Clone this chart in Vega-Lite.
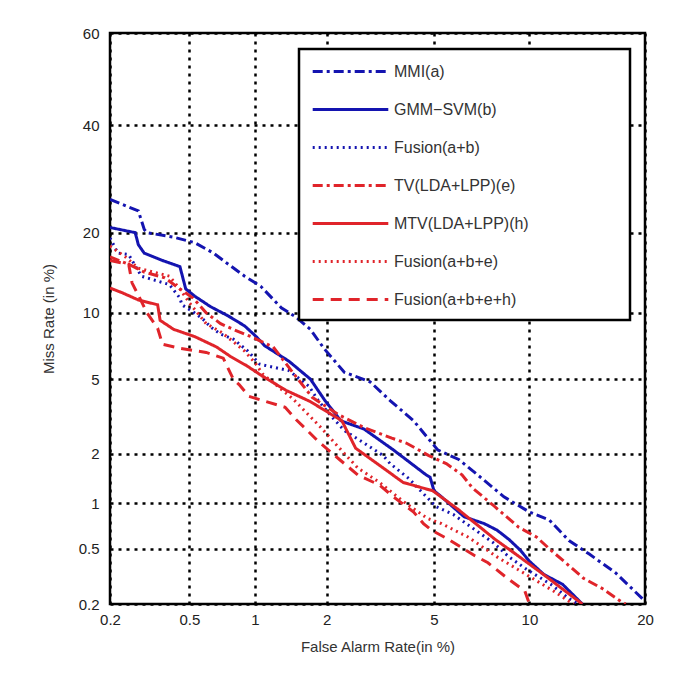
{
  "$schema": "https://vega.github.io/schema/vega-lite/v6.json",
  "width": 535,
  "height": 571,
  "autosize": "none",
  "padding": {"left": 110, "top": 33, "right": 40, "bottom": 84},
  "background": "white",
  "config": {
    "view": {"stroke": "black", "strokeWidth": 2.5},
    "font": "Liberation Sans",
    "axis": {
      "grid": true, "gridColor": "black", "gridDash": [3, 5], "gridWidth": 2.5, "gridOpacity": 1,
      "domain": false, "ticks": false,
      "labelFont": "Liberation Sans", "labelFontSize": 15, "labelColor": "#222",
      "titleFont": "Liberation Sans", "titleFontSize": 15, "titleFontWeight": "normal", "titleColor": "#333",
      "labelFlush": false
    },
    "legend": {
      "orient": "none", "legendX": 189, "legendY": 16,
      "padding": 12, "strokeColor": "black", "strokeWidth": 2.5, "fillColor": "white",
      "symbolType": "M-4.2,0H4.2", "symbolSize": 324, "symbolOffset": 29, "symbolStrokeWidth": 3,
      "labelOffset": 33, "labelFont": "Liberation Sans", "labelFontSize": 16, "labelColor": "#333",
      "rowPadding": 19, "labelLimit": 400,
      "titleOrient": "right", "titlePadding": 89, "titleFontSize": 16
    }
  },
  "data": {"values": [
    {"s":"MMI(a)","fa":0.2,"miss":25.5},{"s":"MMI(a)","fa":0.28,"miss":23.5},{"s":"MMI(a)","fa":0.3,"miss":20.5},{"s":"MMI(a)","fa":0.31,"miss":20},{"s":"MMI(a)","fa":0.42,"miss":19.3},{"s":"MMI(a)","fa":0.53,"miss":18.5},{"s":"MMI(a)","fa":0.65,"miss":17},{"s":"MMI(a)","fa":0.76,"miss":15.5},{"s":"MMI(a)","fa":0.9,"miss":14},{"s":"MMI(a)","fa":1.06,"miss":12.8},{"s":"MMI(a)","fa":1.3,"miss":10.5},{"s":"MMI(a)","fa":1.5,"miss":9.6},{"s":"MMI(a)","fa":1.72,"miss":8.5},{"s":"MMI(a)","fa":1.95,"miss":7.0},{"s":"MMI(a)","fa":2.35,"miss":5.4},{"s":"MMI(a)","fa":2.95,"miss":4.85},{"s":"MMI(a)","fa":3.5,"miss":3.9},{"s":"MMI(a)","fa":4.25,"miss":3.05},{"s":"MMI(a)","fa":5.15,"miss":2.1},{"s":"MMI(a)","fa":6.05,"miss":1.85},{"s":"MMI(a)","fa":6.9,"miss":1.52},{"s":"MMI(a)","fa":8.4,"miss":1.1},{"s":"MMI(a)","fa":10,"miss":0.88},{"s":"MMI(a)","fa":11.4,"miss":0.78},{"s":"MMI(a)","fa":12.9,"miss":0.57},{"s":"MMI(a)","fa":14.6,"miss":0.46},{"s":"MMI(a)","fa":17,"miss":0.34},{"s":"MMI(a)","fa":20,"miss":0.21},

    {"s":"GMM−SVM(b)","fa":0.2,"miss":20.8},{"s":"GMM−SVM(b)","fa":0.27,"miss":20},{"s":"GMM−SVM(b)","fa":0.28,"miss":18.2},{"s":"GMM−SVM(b)","fa":0.3,"miss":17},{"s":"GMM−SVM(b)","fa":0.37,"miss":16},{"s":"GMM−SVM(b)","fa":0.45,"miss":15.2},{"s":"GMM−SVM(b)","fa":0.48,"miss":12.5},{"s":"GMM−SVM(b)","fa":0.53,"miss":11.7},{"s":"GMM−SVM(b)","fa":0.63,"miss":10.6},{"s":"GMM−SVM(b)","fa":0.76,"miss":9.7},{"s":"GMM−SVM(b)","fa":0.9,"miss":8.8},{"s":"GMM−SVM(b)","fa":1.02,"miss":7.85},{"s":"GMM−SVM(b)","fa":1.1,"miss":7.2},{"s":"GMM−SVM(b)","fa":1.4,"miss":6.1},{"s":"GMM−SVM(b)","fa":1.72,"miss":5.0},{"s":"GMM−SVM(b)","fa":1.97,"miss":3.9},{"s":"GMM−SVM(b)","fa":2.28,"miss":3.05},{"s":"GMM−SVM(b)","fa":2.8,"miss":2.75},{"s":"GMM−SVM(b)","fa":3.6,"miss":2.1},{"s":"GMM−SVM(b)","fa":4.7,"miss":1.5},{"s":"GMM−SVM(b)","fa":4.85,"miss":1.45},{"s":"GMM−SVM(b)","fa":5.0,"miss":1.2},{"s":"GMM−SVM(b)","fa":5.3,"miss":1.1},{"s":"GMM−SVM(b)","fa":6.3,"miss":0.82},{"s":"GMM−SVM(b)","fa":7.3,"miss":0.74},{"s":"GMM−SVM(b)","fa":8.0,"miss":0.67},{"s":"GMM−SVM(b)","fa":8.7,"miss":0.58},{"s":"GMM−SVM(b)","fa":9.4,"miss":0.49},{"s":"GMM−SVM(b)","fa":10,"miss":0.41},{"s":"GMM−SVM(b)","fa":11,"miss":0.33},{"s":"GMM−SVM(b)","fa":12.4,"miss":0.28},{"s":"GMM−SVM(b)","fa":14,"miss":0.2},

    {"s":"Fusion(a+b)","fa":0.2,"miss":19.2},{"s":"Fusion(a+b)","fa":0.22,"miss":17},{"s":"Fusion(a+b)","fa":0.25,"miss":16.8},{"s":"Fusion(a+b)","fa":0.29,"miss":14},{"s":"Fusion(a+b)","fa":0.4,"miss":13},{"s":"Fusion(a+b)","fa":0.45,"miss":11.5},{"s":"Fusion(a+b)","fa":0.46,"miss":10.8},{"s":"Fusion(a+b)","fa":0.52,"miss":10.1},{"s":"Fusion(a+b)","fa":0.58,"miss":9.4},{"s":"Fusion(a+b)","fa":0.63,"miss":8.7},{"s":"Fusion(a+b)","fa":0.7,"miss":8.1},{"s":"Fusion(a+b)","fa":0.8,"miss":7.7},{"s":"Fusion(a+b)","fa":0.93,"miss":6.8},{"s":"Fusion(a+b)","fa":1.05,"miss":5.9},{"s":"Fusion(a+b)","fa":1.4,"miss":5.5},{"s":"Fusion(a+b)","fa":1.7,"miss":4.6},{"s":"Fusion(a+b)","fa":1.85,"miss":3.9},{"s":"Fusion(a+b)","fa":2.1,"miss":3.2},{"s":"Fusion(a+b)","fa":2.35,"miss":2.7},{"s":"Fusion(a+b)","fa":2.8,"miss":2.3},{"s":"Fusion(a+b)","fa":3.3,"miss":1.95},{"s":"Fusion(a+b)","fa":3.5,"miss":1.75},{"s":"Fusion(a+b)","fa":4.1,"miss":1.42},{"s":"Fusion(a+b)","fa":4.6,"miss":1.15},{"s":"Fusion(a+b)","fa":5.1,"miss":0.95},{"s":"Fusion(a+b)","fa":5.8,"miss":0.85},{"s":"Fusion(a+b)","fa":7.8,"miss":0.55},{"s":"Fusion(a+b)","fa":8.7,"miss":0.44},{"s":"Fusion(a+b)","fa":9.8,"miss":0.36},{"s":"Fusion(a+b)","fa":11.5,"miss":0.28},{"s":"Fusion(a+b)","fa":12.9,"miss":0.22},{"s":"Fusion(a+b)","fa":13.7,"miss":0.2},

    {"s":"TV(LDA+LPP)(e)","fa":0.2,"miss":16.5},{"s":"TV(LDA+LPP)(e)","fa":0.25,"miss":15.5},{"s":"TV(LDA+LPP)(e)","fa":0.3,"miss":14.5},{"s":"TV(LDA+LPP)(e)","fa":0.38,"miss":13.8},{"s":"TV(LDA+LPP)(e)","fa":0.45,"miss":12.5},{"s":"TV(LDA+LPP)(e)","fa":0.52,"miss":11.5},{"s":"TV(LDA+LPP)(e)","fa":0.6,"miss":10},{"s":"TV(LDA+LPP)(e)","fa":0.7,"miss":9},{"s":"TV(LDA+LPP)(e)","fa":0.8,"miss":8.5},{"s":"TV(LDA+LPP)(e)","fa":0.96,"miss":7.9},{"s":"TV(LDA+LPP)(e)","fa":1.2,"miss":7.1},{"s":"TV(LDA+LPP)(e)","fa":1.47,"miss":5.3},{"s":"TV(LDA+LPP)(e)","fa":1.75,"miss":4.05},{"s":"TV(LDA+LPP)(e)","fa":2.22,"miss":3.3},{"s":"TV(LDA+LPP)(e)","fa":2.8,"miss":2.8},{"s":"TV(LDA+LPP)(e)","fa":3.55,"miss":2.45},{"s":"TV(LDA+LPP)(e)","fa":4.0,"miss":2.3},{"s":"TV(LDA+LPP)(e)","fa":4.8,"miss":1.95},{"s":"TV(LDA+LPP)(e)","fa":5.5,"miss":1.75},{"s":"TV(LDA+LPP)(e)","fa":6.2,"miss":1.5},{"s":"TV(LDA+LPP)(e)","fa":6.7,"miss":1.25},{"s":"TV(LDA+LPP)(e)","fa":7.8,"miss":0.97},{"s":"TV(LDA+LPP)(e)","fa":9.3,"miss":0.7},{"s":"TV(LDA+LPP)(e)","fa":10.5,"miss":0.6},{"s":"TV(LDA+LPP)(e)","fa":11.5,"miss":0.49},{"s":"TV(LDA+LPP)(e)","fa":12.5,"miss":0.41},{"s":"TV(LDA+LPP)(e)","fa":14.1,"miss":0.31},{"s":"TV(LDA+LPP)(e)","fa":15.8,"miss":0.26},{"s":"TV(LDA+LPP)(e)","fa":17.5,"miss":0.21},{"s":"TV(LDA+LPP)(e)","fa":18,"miss":0.2},

    {"s":"MTV(LDA+LPP)(h)","fa":0.2,"miss":12.6},{"s":"MTV(LDA+LPP)(h)","fa":0.23,"miss":12.1},{"s":"MTV(LDA+LPP)(h)","fa":0.28,"miss":11.3},{"s":"MTV(LDA+LPP)(h)","fa":0.35,"miss":10.8},{"s":"MTV(LDA+LPP)(h)","fa":0.36,"miss":9.3},{"s":"MTV(LDA+LPP)(h)","fa":0.42,"miss":8.5},{"s":"MTV(LDA+LPP)(h)","fa":0.53,"miss":7.9},{"s":"MTV(LDA+LPP)(h)","fa":0.67,"miss":7.1},{"s":"MTV(LDA+LPP)(h)","fa":0.78,"miss":6.4},{"s":"MTV(LDA+LPP)(h)","fa":0.92,"miss":5.8},{"s":"MTV(LDA+LPP)(h)","fa":1.07,"miss":5.2},{"s":"MTV(LDA+LPP)(h)","fa":1.36,"miss":4.4},{"s":"MTV(LDA+LPP)(h)","fa":1.72,"miss":3.85},{"s":"MTV(LDA+LPP)(h)","fa":2.3,"miss":3.05},{"s":"MTV(LDA+LPP)(h)","fa":2.6,"miss":2.15},{"s":"MTV(LDA+LPP)(h)","fa":3.3,"miss":1.65},{"s":"MTV(LDA+LPP)(h)","fa":3.9,"miss":1.35},{"s":"MTV(LDA+LPP)(h)","fa":4.95,"miss":1.2},{"s":"MTV(LDA+LPP)(h)","fa":6.0,"miss":0.92},{"s":"MTV(LDA+LPP)(h)","fa":7.9,"miss":0.58},{"s":"MTV(LDA+LPP)(h)","fa":9.0,"miss":0.47},{"s":"MTV(LDA+LPP)(h)","fa":10.8,"miss":0.34},{"s":"MTV(LDA+LPP)(h)","fa":12.6,"miss":0.25},{"s":"MTV(LDA+LPP)(h)","fa":14,"miss":0.2},

    {"s":"Fusion(a+b+e)","fa":0.2,"miss":18},{"s":"Fusion(a+b+e)","fa":0.24,"miss":16.5},{"s":"Fusion(a+b+e)","fa":0.28,"miss":15},{"s":"Fusion(a+b+e)","fa":0.4,"miss":14},{"s":"Fusion(a+b+e)","fa":0.45,"miss":12.5},{"s":"Fusion(a+b+e)","fa":0.5,"miss":11},{"s":"Fusion(a+b+e)","fa":0.6,"miss":9},{"s":"Fusion(a+b+e)","fa":0.7,"miss":8.3},{"s":"Fusion(a+b+e)","fa":0.8,"miss":7.5},{"s":"Fusion(a+b+e)","fa":0.9,"miss":6.8},{"s":"Fusion(a+b+e)","fa":1.0,"miss":6.0},{"s":"Fusion(a+b+e)","fa":1.08,"miss":5.3},{"s":"Fusion(a+b+e)","fa":1.45,"miss":4.0},{"s":"Fusion(a+b+e)","fa":1.9,"miss":2.8},{"s":"Fusion(a+b+e)","fa":2.25,"miss":2.15},{"s":"Fusion(a+b+e)","fa":2.65,"miss":1.65},{"s":"Fusion(a+b+e)","fa":3.2,"miss":1.35},{"s":"Fusion(a+b+e)","fa":3.9,"miss":1.03},{"s":"Fusion(a+b+e)","fa":4.75,"miss":0.8},{"s":"Fusion(a+b+e)","fa":5.3,"miss":0.74},{"s":"Fusion(a+b+e)","fa":6.5,"miss":0.6},{"s":"Fusion(a+b+e)","fa":8.0,"miss":0.44},{"s":"Fusion(a+b+e)","fa":9.4,"miss":0.35},{"s":"Fusion(a+b+e)","fa":11.7,"miss":0.25},{"s":"Fusion(a+b+e)","fa":12.9,"miss":0.21},{"s":"Fusion(a+b+e)","fa":13.3,"miss":0.2},

    {"s":"Fusion(a+b+e+h)","fa":0.2,"miss":16},{"s":"Fusion(a+b+e+h)","fa":0.25,"miss":15.5},{"s":"Fusion(a+b+e+h)","fa":0.26,"miss":13.2},{"s":"Fusion(a+b+e+h)","fa":0.28,"miss":11.8},{"s":"Fusion(a+b+e+h)","fa":0.31,"miss":10},{"s":"Fusion(a+b+e+h)","fa":0.35,"miss":8.6},{"s":"Fusion(a+b+e+h)","fa":0.37,"miss":7.3},{"s":"Fusion(a+b+e+h)","fa":0.45,"miss":7.0},{"s":"Fusion(a+b+e+h)","fa":0.6,"miss":6.7},{"s":"Fusion(a+b+e+h)","fa":0.72,"miss":6.3},{"s":"Fusion(a+b+e+h)","fa":0.8,"miss":5.0},{"s":"Fusion(a+b+e+h)","fa":0.85,"miss":4.7},{"s":"Fusion(a+b+e+h)","fa":0.94,"miss":4.1},{"s":"Fusion(a+b+e+h)","fa":1.08,"miss":3.9},{"s":"Fusion(a+b+e+h)","fa":1.35,"miss":3.6},{"s":"Fusion(a+b+e+h)","fa":1.5,"miss":3.1},{"s":"Fusion(a+b+e+h)","fa":1.65,"miss":2.75},{"s":"Fusion(a+b+e+h)","fa":1.85,"miss":2.35},{"s":"Fusion(a+b+e+h)","fa":2.25,"miss":1.85},{"s":"Fusion(a+b+e+h)","fa":2.65,"miss":1.5},{"s":"Fusion(a+b+e+h)","fa":3.2,"miss":1.3},{"s":"Fusion(a+b+e+h)","fa":3.6,"miss":1.1},{"s":"Fusion(a+b+e+h)","fa":4.25,"miss":0.88},{"s":"Fusion(a+b+e+h)","fa":4.6,"miss":0.74},{"s":"Fusion(a+b+e+h)","fa":4.9,"miss":0.67},{"s":"Fusion(a+b+e+h)","fa":5.6,"miss":0.58},{"s":"Fusion(a+b+e+h)","fa":6.8,"miss":0.45},{"s":"Fusion(a+b+e+h)","fa":7.5,"miss":0.4},{"s":"Fusion(a+b+e+h)","fa":8.6,"miss":0.31},{"s":"Fusion(a+b+e+h)","fa":9.7,"miss":0.25},{"s":"Fusion(a+b+e+h)","fa":10,"miss":0.2}
  ]},
  "transform": [
    {"calculate": "quantileNormal(datum.fa / 100)", "as": "px"},
    {"calculate": "quantileNormal(datum.miss / 100)", "as": "py"}
  ],
  "mark": {"type": "line", "strokeWidth": 3, "clip": true},
  "encoding": {
    "x": {
      "field": "px", "type": "quantitative",
      "scale": {"domain": [-2.8782, -0.8416], "nice": false, "zero": false},
      "axis": {
        "title": "False Alarm Rate(in %)",
        "values": [-2.8782, -2.5758, -2.3263, -2.0537, -1.6449, -1.2816, -0.8416],
        "labelExpr": "format(cumulativeNormal(datum.value) * 100, '.1~r')",
        "labelPadding": 8, "titlePadding": 12
      }
    },
    "y": {
      "field": "py", "type": "quantitative",
      "scale": {"domain": [-2.8782, 0.2533], "nice": false, "zero": false},
      "axis": {
        "title": "Miss Rate (in %)",
        "values": [-2.8782, -2.5758, -2.3263, -2.0537, -1.6449, -1.2816, -0.8416, -0.2533, 0.2533],
        "labelExpr": "format(cumulativeNormal(datum.value) * 100, '.1~r')",
        "labelPadding": 11, "titlePadding": 22
      }
    },
    "color": {
      "field": "s", "type": "nominal",
      "scale": {
        "domain": ["MMI(a)", "GMM−SVM(b)", "Fusion(a+b)", "TV(LDA+LPP)(e)", "MTV(LDA+LPP)(h)", "Fusion(a+b+e)", "Fusion(a+b+e+h)"],
        "range": ["#1414b0", "#1414b0", "#1414b0", "#e0242a", "#e0242a", "#e0242a", "#e0242a"]
      },
      "legend": {"title": " "}
    },
    "strokeDash": {
      "field": "s", "type": "nominal",
      "scale": {
        "domain": ["MMI(a)", "GMM−SVM(b)", "Fusion(a+b)", "TV(LDA+LPP)(e)", "MTV(LDA+LPP)(h)", "Fusion(a+b+e)", "Fusion(a+b+e+h)"],
        "range": [[10, 4, 3, 4], [1, 0], [2, 4], [10, 4, 3, 4], [1, 0], [2, 4], [11, 7]]
      },
      "legend": {"title": " "}
    }
  }
}
